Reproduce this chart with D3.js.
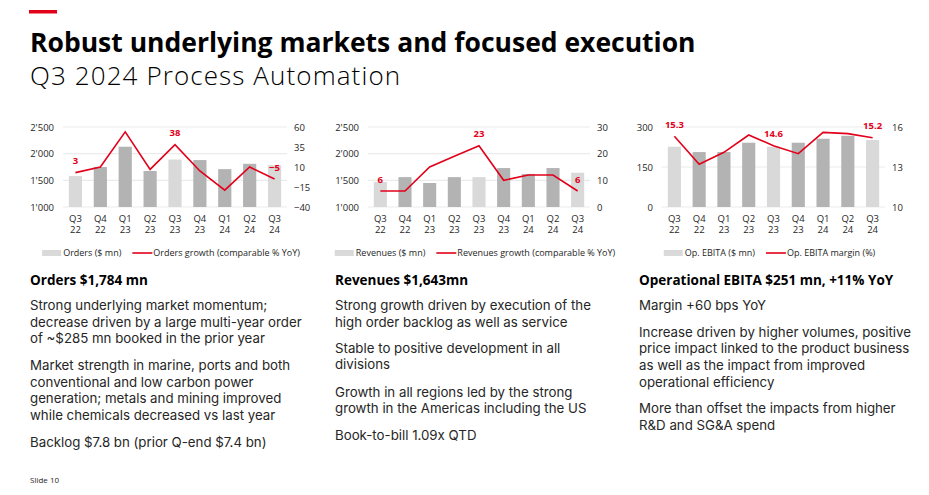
<!DOCTYPE html>
<html>
<head>
<meta charset="utf-8">
<script src="https://cdn.jsdelivr.net/npm/d3@7"></script>
<style>
  html, body { margin: 0; padding: 0; background: #fff; }
  svg { display: block; font-family: "Open Sans", "Noto Sans", sans-serif; }
</style>
</head>
<body>
<svg id="slide" width="929" height="495"></svg>
<script>
// ---------- DATA ----------
const quarters = ["Q3 22","Q4 22","Q1 23","Q2 23","Q3 23","Q4 23","Q1 24","Q2 24","Q3 24"];

const ordersValues = [1580, 1750, 2130, 1675, 1890, 1880, 1710, 1810, 1784];
const ordersGrowth = [3, 10, 54, 7, 38, 5, -19, 10, -5];
const ordersLeftTicks = [1000, 1500, 2000, 2500];
const ordersRightTicks = [-40, -15, 10, 35, 60];

const revenuesValues = [1470, 1560, 1450, 1560, 1560, 1730, 1620, 1730, 1643];
const revenuesGrowth = [6, 6, 15, 19, 23, 10, 12, 12, 6];
const revenuesLeftTicks = [1000, 1500, 2000, 2500];
const revenuesRightTicks = [0, 10, 20, 30];

const ebitaValues = [226, 206, 206, 241, 226, 241, 256, 267, 251];
const ebitaMargin = [15.3, 13.2, 14.1, 15.4, 14.6, 14.0, 15.6, 15.5, 15.2];
const ebitaLeftTicks = [0, 150, 300];
const ebitaRightTicks = [10, 13, 16];

const labelledIdx = [0, 4, 8];

const legendBars = ["Orders ($ mn)", "Revenues ($ mn)", "Op. EBITA ($ mn)"];
const legendLines = ["Orders growth (comparable % YoY)", "Revenues growth (comparable % YoY)", "Op. EBITA margin (%)"];

const title = "Robust underlying markets and focused execution";
const subtitle = "Q3 2024 Process Automation";

const headings = ["Orders $1,784 mn", "Revenues $1,643mn", "Operational EBITA $251 mn, +11% YoY"];
const paragraphs = [
  [
    ["Strong underlying market momentum;", "decrease driven by a large multi-year order", "of ~$285 mn booked in the prior year"],
    ["Market strength in marine, ports and both", "conventional and low carbon power", "generation; metals and mining improved", "while chemicals decreased vs last year"],
    ["Backlog $7.8 bn (prior Q-end $7.4 bn)"]
  ],
  [
    ["Strong growth driven by execution of the", "high order backlog as well as service"],
    ["Stable to positive development in all", "divisions"],
    ["Growth in all regions led by the strong", "growth in the Americas including the US"],
    ["Book-to-bill 1.09x QTD"]
  ],
  [
    ["Margin +60 bps YoY"],
    ["Increase driven by higher volumes, positive", "price impact linked to the product business", "as well as the impact from improved", "operational efficiency"],
    ["More than offset the impacts from higher", "R&D and SG&A spend"]
  ]
];
const footer = "Slide 10";

// ---------- STYLE ----------
const RED = "#e2001a";
const LIGHT = "#d9d9d9";
const DARK = "#b3b3b3";
const GRID = "#ebebeb";
const TXT = "#262626";
const BODYFONT = "Inter";

const svg = d3.select("#slide");

// top accent
svg.append("rect").attr("x", 29).attr("y", 10).attr("width", 28).attr("height", 3.5).attr("fill", RED);

svg.append("text").attr("x", 30).attr("y", 52)
  .attr("font-size", 26.5).attr("font-weight", 700).attr("fill", "#000")
  .attr("font-family", "Open Sans").text(title);
svg.append("text").attr("x", 30).attr("y", 85)
  .attr("font-size", 26).attr("font-weight", 300).attr("fill", "#000")
  .attr("letter-spacing", 1.1)
  .attr("font-family", "Open Sans").text(subtitle);

// ---------- CHARTS ----------
const charts = [
  {x0: 63, x1: 287, values: ordersValues, line: ordersGrowth, lt: ordersLeftTicks, rt: ordersRightTicks, fmt: d => d3.format(",")(d).replace(/,/g, "'"), lfmt: d3.format("d")},
  {x0: 368, x1: 590, values: revenuesValues, line: revenuesGrowth, lt: revenuesLeftTicks, rt: revenuesRightTicks, fmt: d => d3.format(",")(d).replace(/,/g, "'"), lfmt: d3.format("d")},
  {x0: 662, x1: 885, values: ebitaValues, line: ebitaMargin, lt: ebitaLeftTicks, rt: ebitaRightTicks, fmt: d3.format("d"), lfmt: d3.format(".1f")}
];
const yTop = 127, yBot = 207;

charts.forEach((c, ci) => {
  const g = svg.append("g");
  const x = d3.scaleBand().domain(quarters).range([c.x0, c.x1]).paddingInner(0.47).paddingOuter(0.235);
  const yL = d3.scaleLinear().domain(d3.extent(c.lt)).range([yBot, yTop]);
  const yR = d3.scaleLinear().domain(d3.extent(c.rt)).range([yBot, yTop]);

  g.selectAll("line.grid").data(c.lt).join("line")
    .attr("x1", c.x0).attr("x2", c.x1)
    .attr("y1", d => yL(d)).attr("y2", d => yL(d))
    .attr("stroke", GRID).attr("stroke-width", 1.2);

  const axL = g.append("g").attr("transform", `translate(${c.x0 - 9},0)`)
    .call(d3.axisLeft(yL).tickValues(c.lt).tickSize(0).tickPadding(0).tickFormat(c.fmt));
  axL.select(".domain").remove();
  axL.selectAll("text").attr("font-size", 9.5).attr("fill", TXT).attr("font-family", "Open Sans");

  const axR = g.append("g").attr("transform", `translate(${c.x1 + 7},0)`)
    .call(d3.axisRight(yR).tickValues(c.rt).tickSize(0).tickPadding(0).tickFormat(d3.format("d")));
  axR.select(".domain").remove();
  axR.selectAll("text").attr("font-size", 9.5).attr("fill", TXT).attr("font-family", "Open Sans");

  g.selectAll("rect.bar").data(c.values).join("rect")
    .attr("x", (d, i) => x(quarters[i]))
    .attr("width", x.bandwidth())
    .attr("y", d => yL(d))
    .attr("height", d => yBot - yL(d))
    .attr("fill", (d, i) => quarters[i].startsWith("Q3") ? LIGHT : DARK);

  quarters.forEach((q, i) => {
    const [a, b] = q.split(" ");
    const cx = x(q) + x.bandwidth() / 2;
    g.append("text").attr("text-anchor", "middle").attr("font-size", 9.5)
      .attr("fill", TXT).attr("font-family", "Open Sans")
      .attr("x", cx).attr("y", 221.5).text(a);
    g.append("text").attr("text-anchor", "middle").attr("font-size", 9.5)
      .attr("fill", TXT).attr("font-family", "Open Sans")
      .attr("x", cx).attr("y", 233).text(b);
  });

  const lineGen = d3.line().x((d, i) => x(quarters[i]) + x.bandwidth() / 2).y(d => yR(d));
  g.append("path").datum(c.line).attr("d", lineGen)
    .attr("fill", "none").attr("stroke", RED).attr("stroke-width", 1.6).attr("stroke-linejoin", "miter");

  labelledIdx.forEach(i => {
    g.append("text").attr("x", x(quarters[i]) + x.bandwidth() / 2).attr("y", yR(c.line[i]) - 8.5)
      .attr("text-anchor", "middle").attr("font-size", 9.5).attr("font-weight", 700)
      .attr("fill", RED).attr("font-family", "Open Sans").text(c.lfmt(c.line[i]));
  });

  const lg = g.append("g");
  const ly = 253;
  lg.append("rect").attr("x", 0).attr("y", ly - 3).attr("width", 19).attr("height", 6).attr("fill", LIGHT);
  const t1 = lg.append("text").attr("x", 21).attr("y", ly + 3.2).attr("font-size", 9)
    .attr("fill", TXT).attr("font-family", "Open Sans").text(legendBars[ci]);
  const w1 = t1.node().getComputedTextLength();
  const lx = 21 + w1 + 11;
  lg.append("line").attr("x1", lx).attr("x2", lx + 20).attr("y1", ly).attr("y2", ly)
    .attr("stroke", RED).attr("stroke-width", 1.6);
  const t2 = lg.append("text").attr("x", lx + 21).attr("y", ly + 3.2).attr("font-size", 9)
    .attr("fill", TXT).attr("font-family", "Open Sans").text(legendLines[ci]);
  const total = lx + 21 + t2.node().getComputedTextLength();
  const center = (c.x0 + c.x1) / 2 - 4;
  lg.attr("transform", `translate(${center - total / 2},0)`);
});

// ---------- TEXT COLUMNS ----------
const colX = [30, 335, 639];
const paraStarts = [
  [305, 365, 441.7],
  [305, 347.7, 391.7, 435],
  [305, 331.7, 408.3]
];
const lineH = 16.6;

// fit body font size to the reference width of one line
const probe = svg.append("text").attr("font-family", BODYFONT).attr("font-size", 14)
  .text("decrease driven by a large multi-year order");
const bodySize = Math.min(13.6, 14 * 272 / probe.node().getComputedTextLength());
probe.remove();

headings.forEach((h, ci) => {
  svg.append("text").attr("x", colX[ci]).attr("y", 285).attr("font-size", 13.5)
    .attr("font-weight", 700).attr("fill", "#000").attr("font-family", "Open Sans").text(h);
  paragraphs[ci].forEach((p, pi) => {
    p.forEach((ln, li) => {
      svg.append("text").attr("x", colX[ci]).attr("y", paraStarts[ci][pi] + 5 + li * lineH)
        .attr("font-size", bodySize).attr("fill", TXT)
        .attr("font-family", BODYFONT).attr("font-weight", 400).text(ln);
    });
  });
});

svg.append("text").attr("x", 30).attr("y", 483).attr("font-size", 8)
  .attr("fill", TXT).attr("font-family", "Open Sans").text(footer);
</script>
</body>
</html>
